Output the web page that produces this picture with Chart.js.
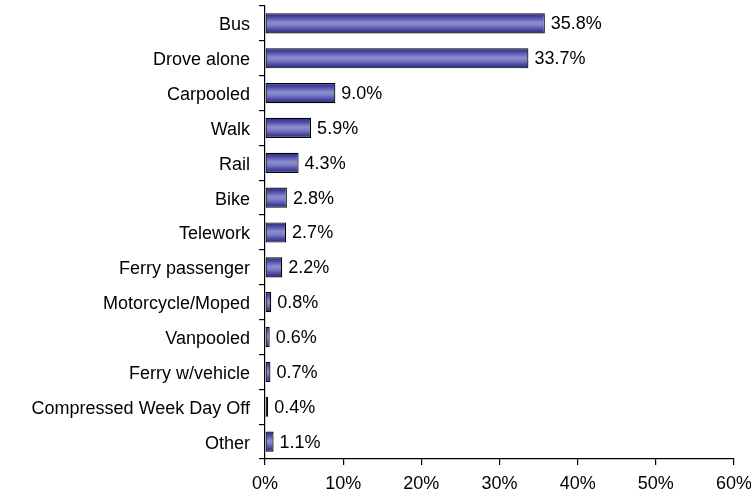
<!DOCTYPE html>
<html>
<head>
<meta charset="utf-8">
<script src="https://cdn.jsdelivr.net/npm/chart.js@4"></script>
<style>
  html, body { margin: 0; padding: 0; background: #fff; }
  #wrap { width: 751px; height: 493px; position: relative; }
</style>
</head>
<body>
<div id="wrap"><canvas id="modes"></canvas></div>
<script>
var modeLabels = ['Bus', 'Drove alone', 'Carpooled', 'Walk', 'Rail', 'Bike', 'Telework',
                  'Ferry passenger', 'Motorcycle/Moped', 'Vanpooled', 'Ferry w/vehicle',
                  'Compressed Week Day Off', 'Other'];
var modeShare = [35.8, 33.7, 9.0, 5.9, 4.3, 2.8, 2.7, 2.2, 0.8, 0.6, 0.7, 0.4, 1.1];
var axisMin = 0, axisMax = 60, axisStep = 10;

var fontFamily = '"Liberation Sans", Arial, sans-serif';
var fontSize = 18;

/** bar fill: dark edges, lighter band in the middle */
function barFill(ctx) {
    var chart = ctx.chart;
    if (!chart.chartArea || !chart.scales.y) return '#6666b0';
    var el = ctx.element;
    var yc = chart.scales.y.getPixelForValue(ctx.dataIndex);
    var half = 10;
    if (el && el.height) half = el.height / 2;
    var g = chart.ctx.createLinearGradient(0, yc - half, 0, yc + half);
    g.addColorStop(0, '#262680');
    g.addColorStop(0.2, '#4c4ca6');
    g.addColorStop(0.45, '#8c8cd0');
    g.addColorStop(0.6, '#7e7ec6');
    g.addColorStop(0.85, '#42429c');
    g.addColorStop(1, '#262680');
    return g;
}

/** value labels to the right of each bar */
var valueLabels = {
    id: 'valueLabels',
    afterDatasetsDraw: function(chart) {
        var c = chart.ctx;
        var meta = chart.getDatasetMeta(0);
        c.save();
        c.font = fontSize + 'px ' + fontFamily;
        c.fillStyle = '#000';
        c.textAlign = 'left';
        c.textBaseline = 'middle';
        meta.data.forEach(function(bar, i) {
            c.fillText(modeShare[i].toFixed(1) + '%', bar.x + 6, bar.y + 1);
        });
        c.restore();
    }
};

var ctx = document.getElementById('modes').getContext('2d');
var modeChart = new Chart(ctx, {
    type: 'bar',
    data: {
        labels: modeLabels,
        datasets: [{
            data: modeShare,
            backgroundColor: barFill,
            borderColor: '#000',
            borderWidth: 1.2,
            borderSkipped: false,
            categoryPercentage: 1,
            barPercentage: 0.58
        }]
    },
    options: {
        indexAxis: 'y',
        responsive: true,
        maintainAspectRatio: false,
        animation: false,
        layout: { padding: { top: 6, left: 0, right: 0, bottom: 0 } },
        plugins: {
            legend: { display: false },
            tooltip: { enabled: false }
        },
        scales: {
            x: {
                min: axisMin,
                max: axisMax,
                border: { display: true, color: '#000', width: 1.2 },
                grid: { drawOnChartArea: false, drawTicks: true, tickLength: 6, color: '#000', lineWidth: 1.2 },
                ticks: {
                    stepSize: axisStep,
                    color: '#000',
                    padding: 8,
                    maxRotation: 0,
                    font: { family: fontFamily, size: fontSize },
                    callback: function(v) { return v + '%'; }
                },
                afterFit: function(scale) {
                    scale.height = 34;
                    scale.paddingLeft = 0;
                    scale.paddingRight = 17;
                }
            },
            y: {
                border: { display: true, color: '#000', width: 1.2 },
                grid: { drawOnChartArea: false, drawTicks: true, tickLength: 6, color: '#000', offset: true, lineWidth: 1.2 },
                ticks: {
                    color: '#000',
                    padding: 9,
                    labelOffset: 2,
                    autoSkip: false,
                    font: { family: fontFamily, size: fontSize }
                },
                afterFit: function(scale) {
                    scale.width = 265;
                    scale.paddingTop = 0;
                    scale.paddingBottom = 0;
                }
            }
        }
    },
    plugins: [valueLabels]
});
</script>
</body>
</html>
